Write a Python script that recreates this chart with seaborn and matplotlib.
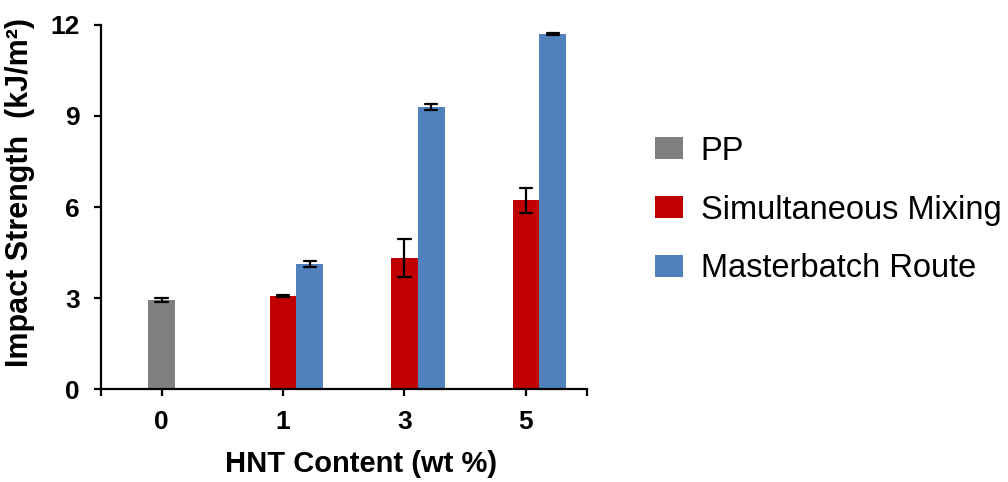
import matplotlib
matplotlib.use("Agg")
import matplotlib.pyplot as plt
from matplotlib.patches import Patch
import pandas as pd
import seaborn as sns

# HNT loading categories and series
contents = ["0", "1", "3", "5"]
series_names = ["PP", "Simultaneous Mixing", "Masterbatch Route"]
series_colors = ["#808080", "#C00000", "#4F81BD"]

# Neat polypropylene
pp_content = ["0"]
pp_mean = [2.95]
pp_err = [0.07]

# Simultaneous mixing
sm_content = ["1", "3", "5"]
sm_mean = [3.08, 4.32, 6.22]
sm_err = [0.03, 0.62, 0.42]

# Masterbatch route
mb_content = ["1", "3", "5"]
mb_mean = [4.14, 9.28, 11.69]
mb_err = [0.10, 0.10, 0.03]

yticks = [0, 3, 6, 9, 12]


def spread(content, mean, err, name):
    """Two rows per bar (mean - err, mean + err): their mean is the bar height
    and their range is the error bar."""
    rows = []
    for c, m, e in zip(content, mean, err):
        rows.append((c, m - e, name))
        rows.append((c, m + e, name))
    return pd.DataFrame(rows, columns=["content", "strength", "series"])


pp_df = spread(pp_content, pp_mean, pp_err, series_names[0])
mix_df = pd.concat([
    spread(sm_content, sm_mean, sm_err, series_names[1]),
    spread(mb_content, mb_mean, mb_err, series_names[2]),
], ignore_index=True)

sns.set_style("ticks")
plt.rcParams["font.family"] = ["Liberation Sans", "DejaVu Sans"]
plt.rcParams.update({"text.color": "black", "axes.labelcolor": "black",
                     "xtick.color": "black", "ytick.color": "black"})

fig = plt.figure(figsize=(10.08, 4.82), dpi=100)
ax = fig.add_axes([0.100, 0.192, 0.482, 0.757])

err_range = lambda v: (v.min(), v.max())
err_style = {"color": "black", "linewidth": 1.6}

sns.barplot(data=pp_df, x="content", y="strength", order=contents,
            color=series_colors[0], saturation=1, width=0.22, linewidth=0,
            errorbar=err_range, capsize=0.1, err_kws=err_style, ax=ax)

# a blank leading hue slot keeps the red bar centred on its tick
gap = " "
palette = {gap: "white", series_names[1]: series_colors[1],
           series_names[2]: series_colors[2]}
sns.barplot(data=mix_df, x="content", y="strength", hue="series",
            order=contents, hue_order=[gap, series_names[1], series_names[2]],
            palette=palette, saturation=1, width=0.66, dodge=True, linewidth=0,
            errorbar=err_range, capsize=0.3, err_kws=err_style,
            legend=False, ax=ax)

ax.set_ylim(0, 12)
ax.set_yticks(yticks)
ax.set_xlim(-0.5, len(contents) - 0.5)
ax.set_xticks([-0.5, len(contents) - 0.5], minor=True)

for side in ("top", "right"):
    ax.spines[side].set_visible(False)
for side in ("left", "bottom"):
    ax.spines[side].set_color("black")
    ax.spines[side].set_linewidth(1.6)

ax.tick_params(axis="both", which="both", direction="out", length=5,
               width=1.6, color="black", labelcolor="black")
ax.tick_params(axis="both", which="major", labelsize=19, pad=10)
for lab in ax.get_xticklabels() + ax.get_yticklabels():
    lab.set_fontweight("bold")

ax.set_xlabel("HNT Content (wt %)", fontsize=21, fontweight="bold",
              color="black")
ax.set_ylabel("Impact Strength  (kJ/m²)", fontsize=22, fontweight="bold",
              color="black")
ax.xaxis.set_label_coords(0.535, -0.165)
ax.yaxis.set_label_coords(-0.135, 0.54)

handles = [Patch(facecolor=c, edgecolor="none") for c in series_colors]
fig.legend(handles, series_names, loc="center left",
           bbox_to_anchor=(655 / 1008, 1 - 210 / 482),
           frameon=False, fontsize=23.5, handlelength=0.85, handleheight=0.65,
           handletextpad=0.55, labelspacing=0.85, borderpad=0,
           borderaxespad=0, labelcolor="black")

fig.savefig("out.png", dpi=100)
